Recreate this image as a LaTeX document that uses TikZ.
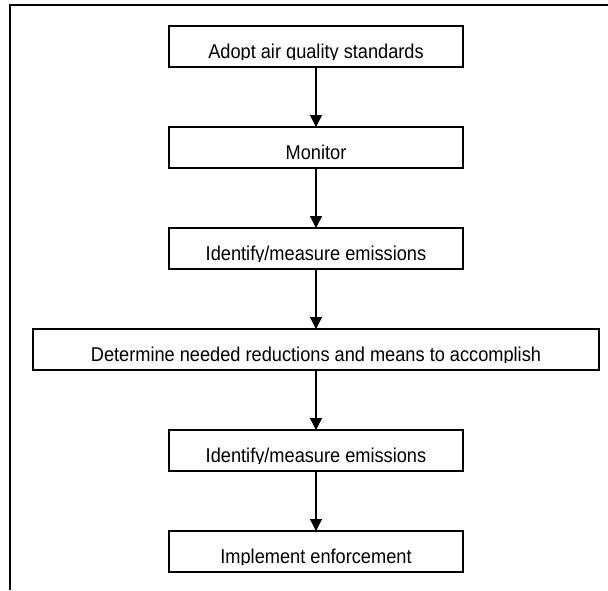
\documentclass[tikz,border=0pt]{standalone}
\usepackage{fontspec}
\setmainfont{Liberation Sans}[FakeStretch=0.91]
\usetikzlibrary{arrows.meta, positioning}

\begin{document}
\begin{tikzpicture}[
    x=1pt, y=1pt,
    node distance=60pt,
    stepbox/.style={rectangle, draw=black, line width=1.4pt, minimum width=294pt, minimum height=41pt, outer sep=0pt, inner sep=0pt},
    widebox/.style={stepbox, minimum width=566pt},
    boxtext/.style={anchor=base, inner sep=0pt, font=\fontsize{20}{24}\selectfont},
    arrow/.style={line width=1.3pt, -{Triangle[length=12pt, width=12pt]}}
]
\useasboundingbox (0,0) rectangle (608,-590);

% Frame (only top and left edges show)
\draw [line width=1.8pt] (608,-5) -- (10,-5) -- (10,-590);

% Nodes
\node (adopt) [stepbox] at (316,-46.5) {};
\node (monitor) [stepbox, below=of adopt] {};
\node (identify) [stepbox, below=of monitor] {};
\node (determine) [widebox, below=of identify] {};
\node (measure) [stepbox, below=of determine] {};
\node (enforce) [stepbox, below=of measure] {};

% Labels (descenders cut off at the lower margin)
\foreach \b/\t in {adopt/{Adopt air quality standards}, monitor/{Monitor}, identify/{Identify/measure emissions}, determine/{Determine needed reductions and means to accomplish}, measure/{Identify/measure emissions}, enforce/{Implement enforcement}} {
  \begin{scope}
    \clip (\b.north west) rectangle ([yshift=7.5pt]\b.south east);
    \node (\b-text) [boxtext] at ([yshift=9pt]\b.south) {\t};
  \end{scope}
}

% Arrows
\draw [arrow] (adopt) -- (monitor);
\draw [arrow] (monitor) -- (identify);
\draw [arrow] (identify) -- (determine);
\draw [arrow] (determine) -- (measure);
\draw [arrow] (measure) -- (enforce);

\end{tikzpicture}
\end{document}
